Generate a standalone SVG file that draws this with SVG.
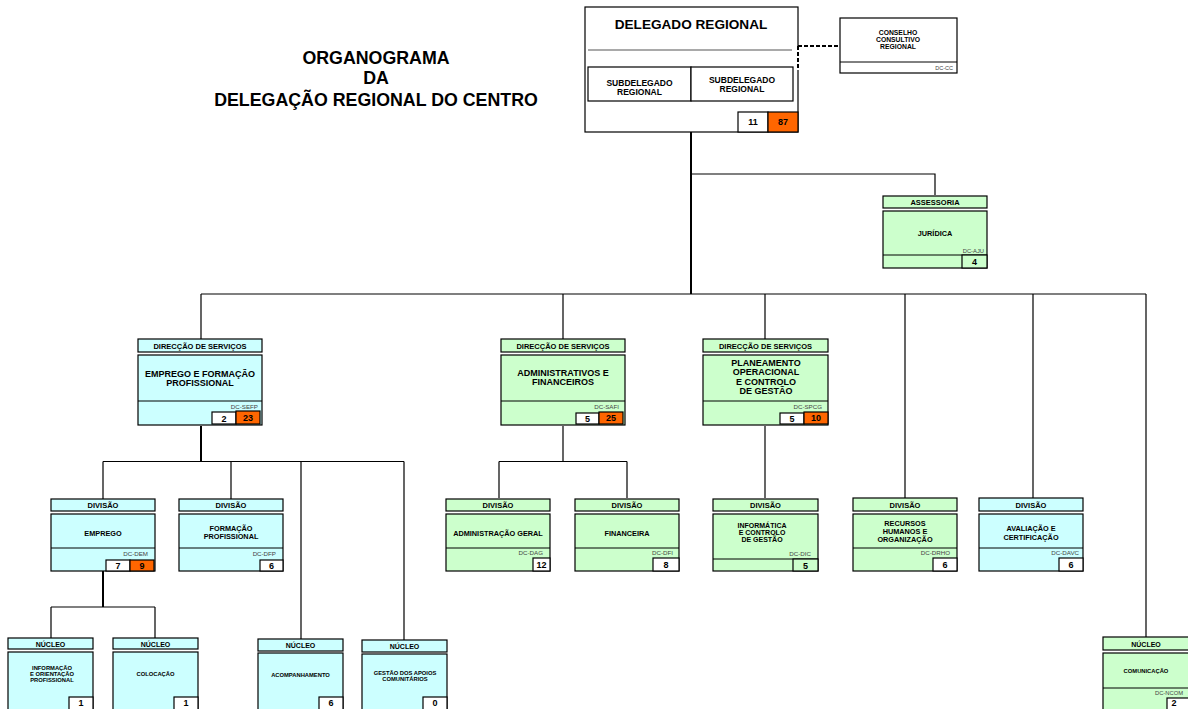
<svg xmlns="http://www.w3.org/2000/svg" width="1188" height="709" viewBox="0 0 1188 709">
  <style>
    text { font-family: "Liberation Sans", Arial, sans-serif; font-weight: bold; fill: #000; text-anchor: middle; }
    .box { stroke: #000; stroke-width: 1.2; }
    .w { fill: #fff; }
    .g { fill: #ccffcc; }
    .c { fill: #ccffff; }
    .o { fill: #ff6600; }
    .sep { stroke: #000; stroke-width: 1; }
    .title { font-size: 17.8px; }
    .hd { font-size: 7.5px; }
    .t9 { font-size: 9px; }
    .t7 { font-size: 7.3px; }
    .t6 { font-size: 5.8px; }
    .code { font-size: 6.2px; font-weight: normal; fill: #444; text-anchor: end; }
    .num { font-size: 9px; }
    .ln { fill: none; stroke: #000; stroke-width: 1.2; }
    .lt { fill: none; stroke: #000; stroke-width: 2; }
  </style>

  <!-- heading -->
  <g id="heading">
    <text class="title" x="376" y="64">ORGANOGRAMA</text>
    <text class="title" x="376" y="84">DA</text>
    <text class="title" x="376" y="106">DELEGAÇÃO REGIONAL DO CENTRO</text>
  </g>

  <!-- connectors -->
  <g id="connectors">
    <path class="lt" d="M691 132 V294"/>
    <path class="ln" d="M691 174 H935 V195"/>
    <path class="ln" d="M201 294 H1146"/>
    <path class="ln" d="M201 294 V339 M563 294 V339 M765 294 V339 M905 294 V498 M1033 294 V498 M1146 294 V637"/>
    <path class="lt" d="M201 426 V461.5"/>
    <path class="ln" d="M103 461.5 H404 M103 461.5 V499 M231 461.5 V499 M301 461.5 V639 M404 461.5 V640"/>
    <path class="ln" d="M563 426 V461.5 M499 461.5 H627 M499 461.5 V498 M627 461.5 V498"/>
    <path class="ln" d="M765 426 V498"/>
    <path class="lt" d="M103 571 V607"/>
    <path class="ln" d="M51 607 H155 M51 607 V638 M155 607 V638"/>
  </g>

  <!-- top management -->
  <g id="delegado-regional">
    <rect class="box w" x="585" y="7" width="213" height="125"/>
    <line x1="798" y1="47" x2="798" y2="70" stroke="#fff" stroke-width="2"/>
    <text x="691" y="29" style="font-size:13.6px">DELEGADO REGIONAL</text>
    <line x1="588" y1="50" x2="792" y2="50" stroke="#555" stroke-width="1.2"/>
    <rect class="box w" x="588" y="67" width="103" height="34"/>
    <rect class="box w" x="691" y="67" width="102" height="34"/>
    <text class="t9" x="639.5" y="86" style="font-size:8.5px">SUBDELEGADO</text>
    <text class="t9" x="639.5" y="95" style="font-size:8.5px">REGIONAL</text>
    <text class="t9" x="742" y="83" style="font-size:8.5px">SUBDELEGADO</text>
    <text class="t9" x="742" y="92" style="font-size:8.5px">REGIONAL</text>
    <rect class="box w" x="738" y="112" width="30" height="20"/>
    <rect class="box o" x="768" y="112" width="30" height="20"/>
    <text class="num" x="753" y="125">11</text>
    <text class="num" x="783" y="125">87</text>
  </g>

  <!-- dashed advisory link -->
  <g id="advisory-link">
    <path fill="none" stroke="#000" stroke-width="2" stroke-dasharray="4,2" d="M798 46 H840 M798 46 V70"/>
  </g>

  <g id="conselho-consultivo">
    <rect class="box w" x="840" y="18" width="117" height="55"/>
    <line class="sep" x1="840" y1="62" x2="957" y2="62"/>
    <text style="font-size:6.8px" x="898" y="34.5">CONSELHO</text>
    <text style="font-size:6.8px" x="898" y="41.5">CONSULTIVO</text>
    <text style="font-size:6.8px" x="898" y="49">REGIONAL</text>
    <text class="code" x="953" y="70" style="font-size:5.5px">DC-CC</text>
  </g>

  <g id="assessoria-juridica">
    <rect class="box g" x="883" y="196" width="104" height="12"/>
    <text class="hd" x="935" y="205">ASSESSORIA</text>
    <rect class="box g" x="883" y="211" width="104" height="57"/>
    <text class="t7" x="935" y="236">JURÍDICA</text>
    <text class="code" x="984" y="253" style="font-size:5.8px">DC-AJU</text>
    <line class="sep" x1="883" y1="255" x2="987" y2="255"/>
    <rect class="box g" x="962" y="255" width="25" height="13"/>
    <text class="num" x="974.5" y="265">4</text>
  </g>

  <!-- direcções de serviços -->
  <g id="dc-sefp">
    <rect class="box c" x="138" y="339" width="124" height="13"/>
    <text class="hd" x="200" y="348.5">DIRECÇÃO DE SERVIÇOS</text>
    <rect class="box c" x="138" y="355" width="124" height="70"/>
    <text class="t9" x="200" y="376.5">EMPREGO E FORMAÇÃO</text>
    <text class="t9" x="200" y="385.5">PROFISSIONAL</text>
    <line class="sep" x1="138" y1="401" x2="262" y2="401"/>
    <text class="code" x="258" y="409">DC-SEFP</text>
    <rect class="box w" x="212" y="412" width="24" height="12"/>
    <rect class="box o" x="236" y="411" width="24" height="13"/>
    <text class="num" x="224" y="421.5">2</text>
    <text class="num" x="248" y="421">23</text>
  </g>

  <g id="dc-safi">
    <rect class="box g" x="501" y="339" width="124" height="13"/>
    <text class="hd" x="563" y="348.5">DIRECÇÃO DE SERVIÇOS</text>
    <rect class="box g" x="501" y="355" width="124" height="70"/>
    <text class="t9" x="563" y="375.5">ADMINISTRATIVOS E</text>
    <text class="t9" x="563" y="385">FINANCEIROS</text>
    <line class="sep" x1="501" y1="401" x2="625" y2="401"/>
    <text class="code" x="619" y="409">DC-SAFI</text>
    <rect class="box w" x="576" y="413" width="23" height="11"/>
    <rect class="box o" x="599" y="412" width="24" height="12"/>
    <text class="num" x="587.5" y="421.5">5</text>
    <text class="num" x="611" y="421">25</text>
  </g>

  <g id="dc-spcg">
    <rect class="box g" x="703" y="339" width="125" height="13"/>
    <text class="hd" x="765.5" y="348.5">DIRECÇÃO DE SERVIÇOS</text>
    <rect class="box g" x="703" y="355" width="125" height="70"/>
    <text class="t9" x="766" y="365.5">PLANEAMENTO</text>
    <text class="t9" x="766" y="375">OPERACIONAL</text>
    <text class="t9" x="766" y="384.5">E CONTROLO</text>
    <text class="t9" x="766" y="394">DE GESTÃO</text>
    <line class="sep" x1="703" y1="401" x2="828" y2="401"/>
    <text class="code" x="822" y="408.5">DC-SPCG</text>
    <rect class="box w" x="780" y="413" width="24" height="11"/>
    <rect class="box o" x="804" y="412" width="24" height="12"/>
    <text class="num" x="792" y="421.5">5</text>
    <text class="num" x="816" y="421">10</text>
  </g>

  <!-- divisões -->
  <g id="dc-dem">
    <rect class="box c" x="51" y="499" width="104" height="12"/>
    <text class="hd" x="103" y="508">DIVISÃO</text>
    <rect class="box c" x="51" y="514" width="104" height="57"/>
    <text class="t7" x="103" y="536">EMPREGO</text>
    <line class="sep" x1="51" y1="548" x2="155" y2="548"/>
    <text class="code" x="148" y="555.5">DC-DEM</text>
    <rect class="box w" x="106" y="560" width="24" height="11"/>
    <rect class="box o" x="130" y="560" width="24" height="11"/>
    <text class="num" x="118" y="568.5">7</text>
    <text class="num" x="142" y="569">9</text>
  </g>

  <g id="dc-dfp">
    <rect class="box c" x="179" y="499" width="104" height="12"/>
    <text class="hd" x="231" y="508">DIVISÃO</text>
    <rect class="box c" x="179" y="514" width="104" height="57"/>
    <text class="t7" x="231" y="530.5">FORMAÇÃO</text>
    <text class="t7" x="231" y="539">PROFISSIONAL</text>
    <line class="sep" x1="179" y1="548" x2="283" y2="548"/>
    <text class="code" x="276" y="555.5">DC-DFP</text>
    <rect class="box w" x="260" y="560" width="23" height="11"/>
    <text class="num" x="271.5" y="568.5">6</text>
  </g>

  <g id="dc-dag">
    <rect class="box g" x="446" y="499" width="104" height="12"/>
    <text class="hd" x="498" y="508">DIVISÃO</text>
    <rect class="box g" x="446" y="514" width="104" height="57"/>
    <text class="t7" x="498" y="536">ADMINISTRAÇÃO GERAL</text>
    <line class="sep" x1="446" y1="548" x2="550" y2="548"/>
    <text class="code" x="543" y="555">DC-DAG</text>
    <rect class="box w" x="533" y="558" width="17" height="13"/>
    <text class="num" x="541.5" y="568">12</text>
  </g>

  <g id="dc-dfi">
    <rect class="box g" x="575" y="499" width="104" height="12"/>
    <text class="hd" x="627" y="508">DIVISÃO</text>
    <rect class="box g" x="575" y="514" width="104" height="57"/>
    <text class="t7" x="627" y="536">FINANCEIRA</text>
    <line class="sep" x1="575" y1="548" x2="679" y2="548"/>
    <text class="code" x="673" y="555">DC-DFI</text>
    <rect class="box w" x="653" y="558" width="26" height="13"/>
    <text class="num" x="666" y="568">8</text>
  </g>

  <g id="dc-dic">
    <rect class="box g" x="713" y="499" width="105" height="12"/>
    <text class="hd" x="765.5" y="508">DIVISÃO</text>
    <rect class="box g" x="713" y="514" width="105" height="57"/>
    <text class="t7" x="762" y="527.5" style="font-size:7px">INFORMÁTICA</text>
    <text class="t7" x="762" y="534.5" style="font-size:7px">E CONTROLO</text>
    <text class="t7" x="762" y="541.5" style="font-size:7px">DE GESTÃO</text>
    <text class="code" x="811" y="556">DC-DIC</text>
    <line class="sep" x1="713" y1="559" x2="818" y2="559"/>
    <rect class="box g" x="793" y="559" width="25" height="12"/>
    <text class="num" x="805.5" y="568.5">5</text>
  </g>

  <g id="dc-drho">
    <rect class="box g" x="853" y="498" width="104" height="13"/>
    <text class="hd" x="905" y="507.5">DIVISÃO</text>
    <rect class="box g" x="853" y="514" width="104" height="57"/>
    <text class="t7" x="905" y="526">RECURSOS</text>
    <text class="t7" x="905" y="533.5">HUMANOS E</text>
    <text class="t7" x="905" y="542">ORGANIZAÇÃO</text>
    <line class="sep" x1="853" y1="548" x2="957" y2="548"/>
    <text class="code" x="950" y="555">DC-DRHO</text>
    <rect class="box w" x="933" y="558" width="24" height="13"/>
    <text class="num" x="945" y="568">6</text>
  </g>

  <g id="dc-davc">
    <rect class="box c" x="979" y="498" width="104" height="13"/>
    <text class="hd" x="1031" y="507.5">DIVISÃO</text>
    <rect class="box c" x="979" y="514" width="104" height="57"/>
    <text class="t7" x="1031" y="531">AVALIAÇÃO E</text>
    <text class="t7" x="1031" y="540">CERTIFICAÇÃO</text>
    <line class="sep" x1="979" y1="548" x2="1083" y2="548"/>
    <text class="code" x="1079" y="555">DC-DAVC</text>
    <rect class="box w" x="1059" y="558" width="24" height="13"/>
    <text class="num" x="1071" y="568">6</text>
  </g>

  <!-- núcleos -->
  <g id="nucleo-iop">
    <rect class="box c" x="8" y="638" width="85" height="11"/>
    <text class="hd" x="50.5" y="646.5" style="font-size:7px">NÚCLEO</text>
    <rect class="box c" x="8" y="652" width="85" height="60"/>
    <text class="t6" x="52" y="669.5">INFORMAÇÃO</text>
    <text class="t6" x="52" y="675.5">E ORIENTAÇÃO</text>
    <text class="t6" x="52" y="681.5">PROFISSIONAL</text>
    <rect class="box w" x="69" y="697" width="24" height="15"/>
    <text class="num" x="81" y="706">1</text>
  </g>

  <g id="nucleo-colocacao">
    <rect class="box c" x="113" y="638" width="85" height="11"/>
    <text class="hd" x="155.5" y="646.5" style="font-size:7px">NÚCLEO</text>
    <rect class="box c" x="113" y="652" width="85" height="60"/>
    <text class="t6" x="155.5" y="676">COLOCAÇÃO</text>
    <rect class="box w" x="174" y="697" width="24" height="15"/>
    <text class="num" x="186" y="706">1</text>
  </g>

  <g id="nucleo-acompanhamento">
    <rect class="box c" x="258" y="639" width="85" height="12"/>
    <text class="hd" x="300.5" y="648" style="font-size:7px">NÚCLEO</text>
    <rect class="box c" x="258" y="653" width="85" height="59"/>
    <text class="t6" x="300.5" y="677">ACOMPANHAMENTO</text>
    <rect class="box w" x="319" y="697" width="24" height="15"/>
    <text class="num" x="331" y="706">6</text>
  </g>

  <g id="nucleo-apoios-comunitarios">
    <rect class="box c" x="362" y="640" width="85" height="12"/>
    <text class="hd" x="404.5" y="649" style="font-size:7px">NÚCLEO</text>
    <rect class="box c" x="362" y="654" width="85" height="58"/>
    <text class="t6" x="405" y="675">GESTÃO DOS APOIOS</text>
    <text class="t6" x="405" y="681">COMUNITÁRIOS</text>
    <rect class="box w" x="423" y="697" width="24" height="15"/>
    <text class="num" x="435" y="706">0</text>
  </g>

  <g id="dc-ncom">
    <rect class="box g" x="1103" y="637" width="88" height="13"/>
    <text class="hd" x="1146" y="646.5" style="font-size:7px">NÚCLEO</text>
    <rect class="box g" x="1103" y="653" width="88" height="60"/>
    <text class="t6" x="1146" y="673">COMUNICAÇÃO</text>
    <line class="sep" x1="1103" y1="688" x2="1191" y2="688"/>
    <text class="code" x="1183" y="695" style="font-size:5.8px">DC-NCOM</text>
    <rect class="box w" x="1167" y="698" width="24" height="14"/>
    <text class="num" x="1174" y="706">2</text>
  </g>
</svg>
